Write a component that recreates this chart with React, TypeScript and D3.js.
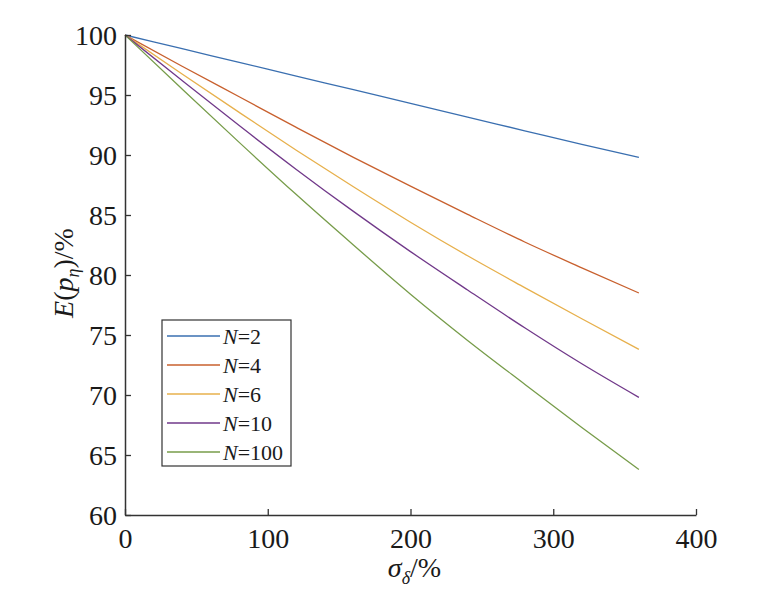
import React, { useRef, useEffect } from "react";
import * as d3 from "d3";

// sigma_delta (%) sample points
const sigma = [0, 40, 80, 120, 160, 200, 240, 280, 320, 360];

// E(p_eta) (%)
const n2 = [100, 98.86, 97.72, 96.58, 95.44, 94.3, 93.16, 92.02, 90.88, 89.8];
const n4 = [100, 97.4, 94.85, 92.3, 89.8, 87.4, 85.05, 82.75, 80.6, 78.5];
const n6 = [100, 96.75, 93.55, 90.4, 87.35, 84.4, 81.6, 78.95, 76.35, 73.8];
const n10 = [100, 96.2, 92.45, 88.8, 85.3, 81.95, 78.75, 75.6, 72.6, 69.8];
const n100 = [100, 95.5, 91.05, 86.7, 82.5, 78.4, 74.55, 70.9, 67.3, 63.8];

const seriesNames = ["2", "4", "6", "10", "100"];
const seriesValues = [n2, n4, n6, n10, n100];
const colors = ["#3a6fb0", "#c8602e", "#e7b04c", "#71398a", "#779c4a"];

const xTicks = [0, 100, 200, 300, 400];
const yTicks = [60, 65, 70, 75, 80, 85, 90, 95, 100];

const FONT = "Liberation Serif, Times New Roman, Times, serif";

const Chart: React.FC = () => {
  const ref = useRef<SVGSVGElement>(null);

  useEffect(() => {
    if (!ref.current) return;
    const svg = d3.select(ref.current);
    svg.selectAll("*").remove();

    const margin = { left: 125, top: 35, right: 79, bottom: 91 };
    const width = 775;
    const height = 606;

    const x = d3.scaleLinear().domain([0, 400]).range([margin.left, width - margin.right]);
    const y = d3.scaleLinear().domain([60, 100]).range([height - margin.bottom, margin.top]);

    const line = d3
      .line<number>()
      .x((d, i) => x(sigma[i]))
      .y((d) => y(d))
      .curve(d3.curveMonotoneX);

    const plot = svg.append("g");
    seriesValues.forEach((vals, k) => {
      plot
        .append("path")
        .datum(vals)
        .attr("fill", "none")
        .attr("stroke", colors[k])
        .attr("stroke-width", 1.3)
        .attr("d", line);
    });

    // axes with inward ticks
    const xAxis = svg
      .append("g")
      .attr("transform", `translate(0,${y(60)})`)
      .call(d3.axisBottom(x).tickValues(xTicks).tickSize(-6).tickSizeOuter(0).tickPadding(13));
    const yAxis = svg
      .append("g")
      .attr("transform", `translate(${x(0)},0)`)
      .call(d3.axisLeft(y).tickValues(yTicks).tickSize(-6).tickSizeOuter(0).tickPadding(8));

    [xAxis, yAxis].forEach((g) => {
      g.select(".domain").attr("stroke", "#333").attr("stroke-width", 1.5);
      g.selectAll(".tick line").attr("stroke", "#333").attr("stroke-width", 1.3);
      g.selectAll(".tick text")
        .attr("fill", "#1a1a1a")
        .attr("font-family", FONT)
        .attr("font-size", 28);
    });
    xAxis.selectAll(".tick text").attr("dy", "0.71em");
    yAxis.selectAll(".tick text").attr("dy", "0.34em");

    // x label
    const xl = svg
      .append("text")
      .attr("x", x(200) + 4)
      .attr("y", 577)
      .attr("text-anchor", "middle")
      .attr("fill", "#1a1a1a")
      .attr("font-family", FONT)
      .attr("font-size", 28);
    xl.append("tspan").attr("font-style", "italic").text("σ");
    xl.append("tspan").attr("font-style", "italic").attr("font-size", 18).attr("dy", 7).text("δ");
    xl.append("tspan").attr("dy", -7).text("/%");

    // y label
    const yl = svg
      .append("text")
      .attr("transform", `translate(73,${y(80) - 2}) rotate(-90)`)
      .attr("text-anchor", "middle")
      .attr("fill", "#1a1a1a")
      .attr("font-family", FONT)
      .attr("font-size", 28);
    yl.append("tspan").attr("font-style", "italic").text("E");
    yl.append("tspan").text("(");
    yl.append("tspan").attr("font-style", "italic").text("p");
    yl.append("tspan").attr("font-style", "italic").attr("font-size", 18).attr("dy", 6).text("η");
    yl.append("tspan").attr("dy", -6).text(")/%");

    // legend
    const lg = svg.append("g").attr("transform", "translate(162,320)");
    lg.append("rect")
      .attr("width", 129)
      .attr("height", 146)
      .attr("fill", "#fff")
      .attr("stroke", "#333")
      .attr("stroke-width", 1.2);
    seriesNames.forEach((name, k) => {
      const row = lg.append("g").attr("transform", `translate(0,${16 + k * 29})`);
      row.append("line")
        .attr("x1", 5)
        .attr("x2", 58)
        .attr("stroke", colors[k])
        .attr("stroke-width", 1.3);
      const t = row
        .append("text")
        .attr("x", 61)
        .attr("dy", "0.35em")
        .attr("fill", "#1a1a1a")
        .attr("font-family", FONT)
        .attr("font-size", 22);
      t.append("tspan").attr("font-style", "italic").text("N");
      t.append("tspan").text("=" + name);
    });
  }, []);

  return (
    <svg
      ref={ref}
      width={775}
      height={606}
      style={{ position: "absolute", left: 0, top: 0, background: "#fff" }}
    />
  );
};

export default function App() {
  return <Chart />;
}
